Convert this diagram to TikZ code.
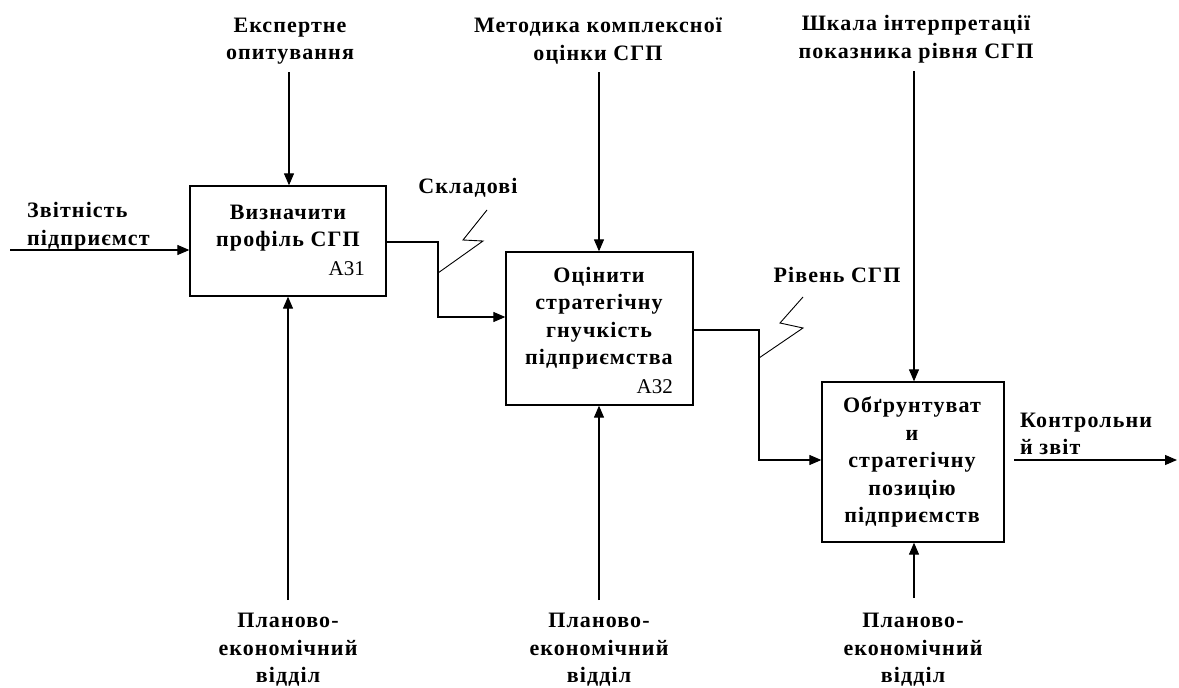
\documentclass[tikz,border=0pt]{standalone}
\usepackage{fontspec}
\setmainfont{Liberation Serif}
\newfontfamily\spacedserif{Liberation Serif}[LetterSpace=5]
\usetikzlibrary{arrows.meta}
\begin{document}
\begin{tikzpicture}[x=1pt,y=-1pt,
  box/.style={draw, line width=1.3pt, inner sep=0pt},
  btxt/.style={font=\spacedserif\bfseries\fontsize{22}{27.5}\selectfont, align=center, inner sep=0pt},
  ltxt/.style={font=\spacedserif\bfseries\fontsize{22}{27.5}\selectfont, align=left, inner sep=0pt, anchor=west},
  idtxt/.style={font=\fontsize{21}{22}\selectfont, inner sep=0pt, anchor=base east},
  arr/.style={-{Triangle[length=12pt,width=10pt]}, line width=1.1pt},
  squig/.style={line width=0.9pt}
]
\useasboundingbox (0,0) rectangle (1179,688);

% boxes
\node[box, minimum width=196pt, minimum height=110pt] (b1) at (288,241) {};
\node[box, minimum width=187pt, minimum height=153pt] (b2) at (599.5,328.5) {};
\node[box, minimum width=182pt, minimum height=160pt] (b3) at (913,462) {};

% box texts
\node[btxt] (t1) at (288,228) {Визначити\\профіль СГП};
\node[idtxt] (id1) at (365,275) {A31};
\node[btxt] (t2) at (599,318) {Оцінити\\стратегічну\\гнучкість\\підприємства};
\node[idtxt] (id2) at (673,393) {A32};
\node[btxt] (t3) at (912,462) {Обґрунтуват\\и\\стратегічну\\позицію\\підприємств};

% control labels
\node[btxt] (c1) at (290,41) {Експертне\\опитування};
\node[btxt] (c2) at (598,41) {Методика комплексної\\оцінки СГП};
\node[btxt] (c3) at (916,39) {Шкала інтерпретації\\показника рівня СГП};

% mechanism labels
\node[btxt] (m1) at (288,650) {Планово-\\економічний\\відділ};
\node[btxt] (m2) at (599,650) {Планово-\\економічний\\відділ};
\node[btxt] (m3) at (913,650) {Планово-\\економічний\\відділ};

% other labels
\node[ltxt] (in1) at (27,226) {Звітність\\підприємст};
\node[btxt] (s1) at (468,188) {Складові};
\node[btxt] (s2) at (837,275) {Рівень СГП};
\node[ltxt] (out3) at (1020,434) {Контрольни\\й звіт};

% coordinates
\coordinate (c1s) at (289,72);
\coordinate (c2s) at (599,72);
\coordinate (c3s) at (914,71);
\coordinate (m1s) at (288,600);
\coordinate (m2s) at (599,600);
\coordinate (m3s) at (914,598);
\coordinate (i1s) at (10,250);
\coordinate (o3s) at (1014,460);
\coordinate (o3e) at (1177,460);

% controls
\draw[arr] (c1s) -- (c1s |- b1.north);
\draw[arr] (c2s) -- (c2s |- b2.north);
\draw[arr] (c3s) -- (c3s |- b3.north);

% mechanisms
\draw[arr] (m1s) -- (m1s |- b1.south);
\draw[arr] (m2s) -- (m2s |- b2.south);
\draw[arr] (m3s) -- (m3s |- b3.south);

% input 1
\draw[arr] (i1s) -- (i1s -| b1.west);

% box1 -> box2
\draw[arr] (b1.east |- 0,242) -- (438,242) -- (438,317) -- (b2.west |- 0,317);
% box2 -> box3
\draw[arr] (b2.east |- 0,330) -- (759,330) -- (759,460) -- (b3.west |- 0,460);
% output 3
\draw[arr] (o3s) -- (o3e);

% squiggles
\draw[squig] (438,273) -- (483,241) -- (463,240) -- (487,210);
\draw[squig] (759,358) -- (803,328) -- (780,323) -- (803,297);
\end{tikzpicture}
\end{document}
